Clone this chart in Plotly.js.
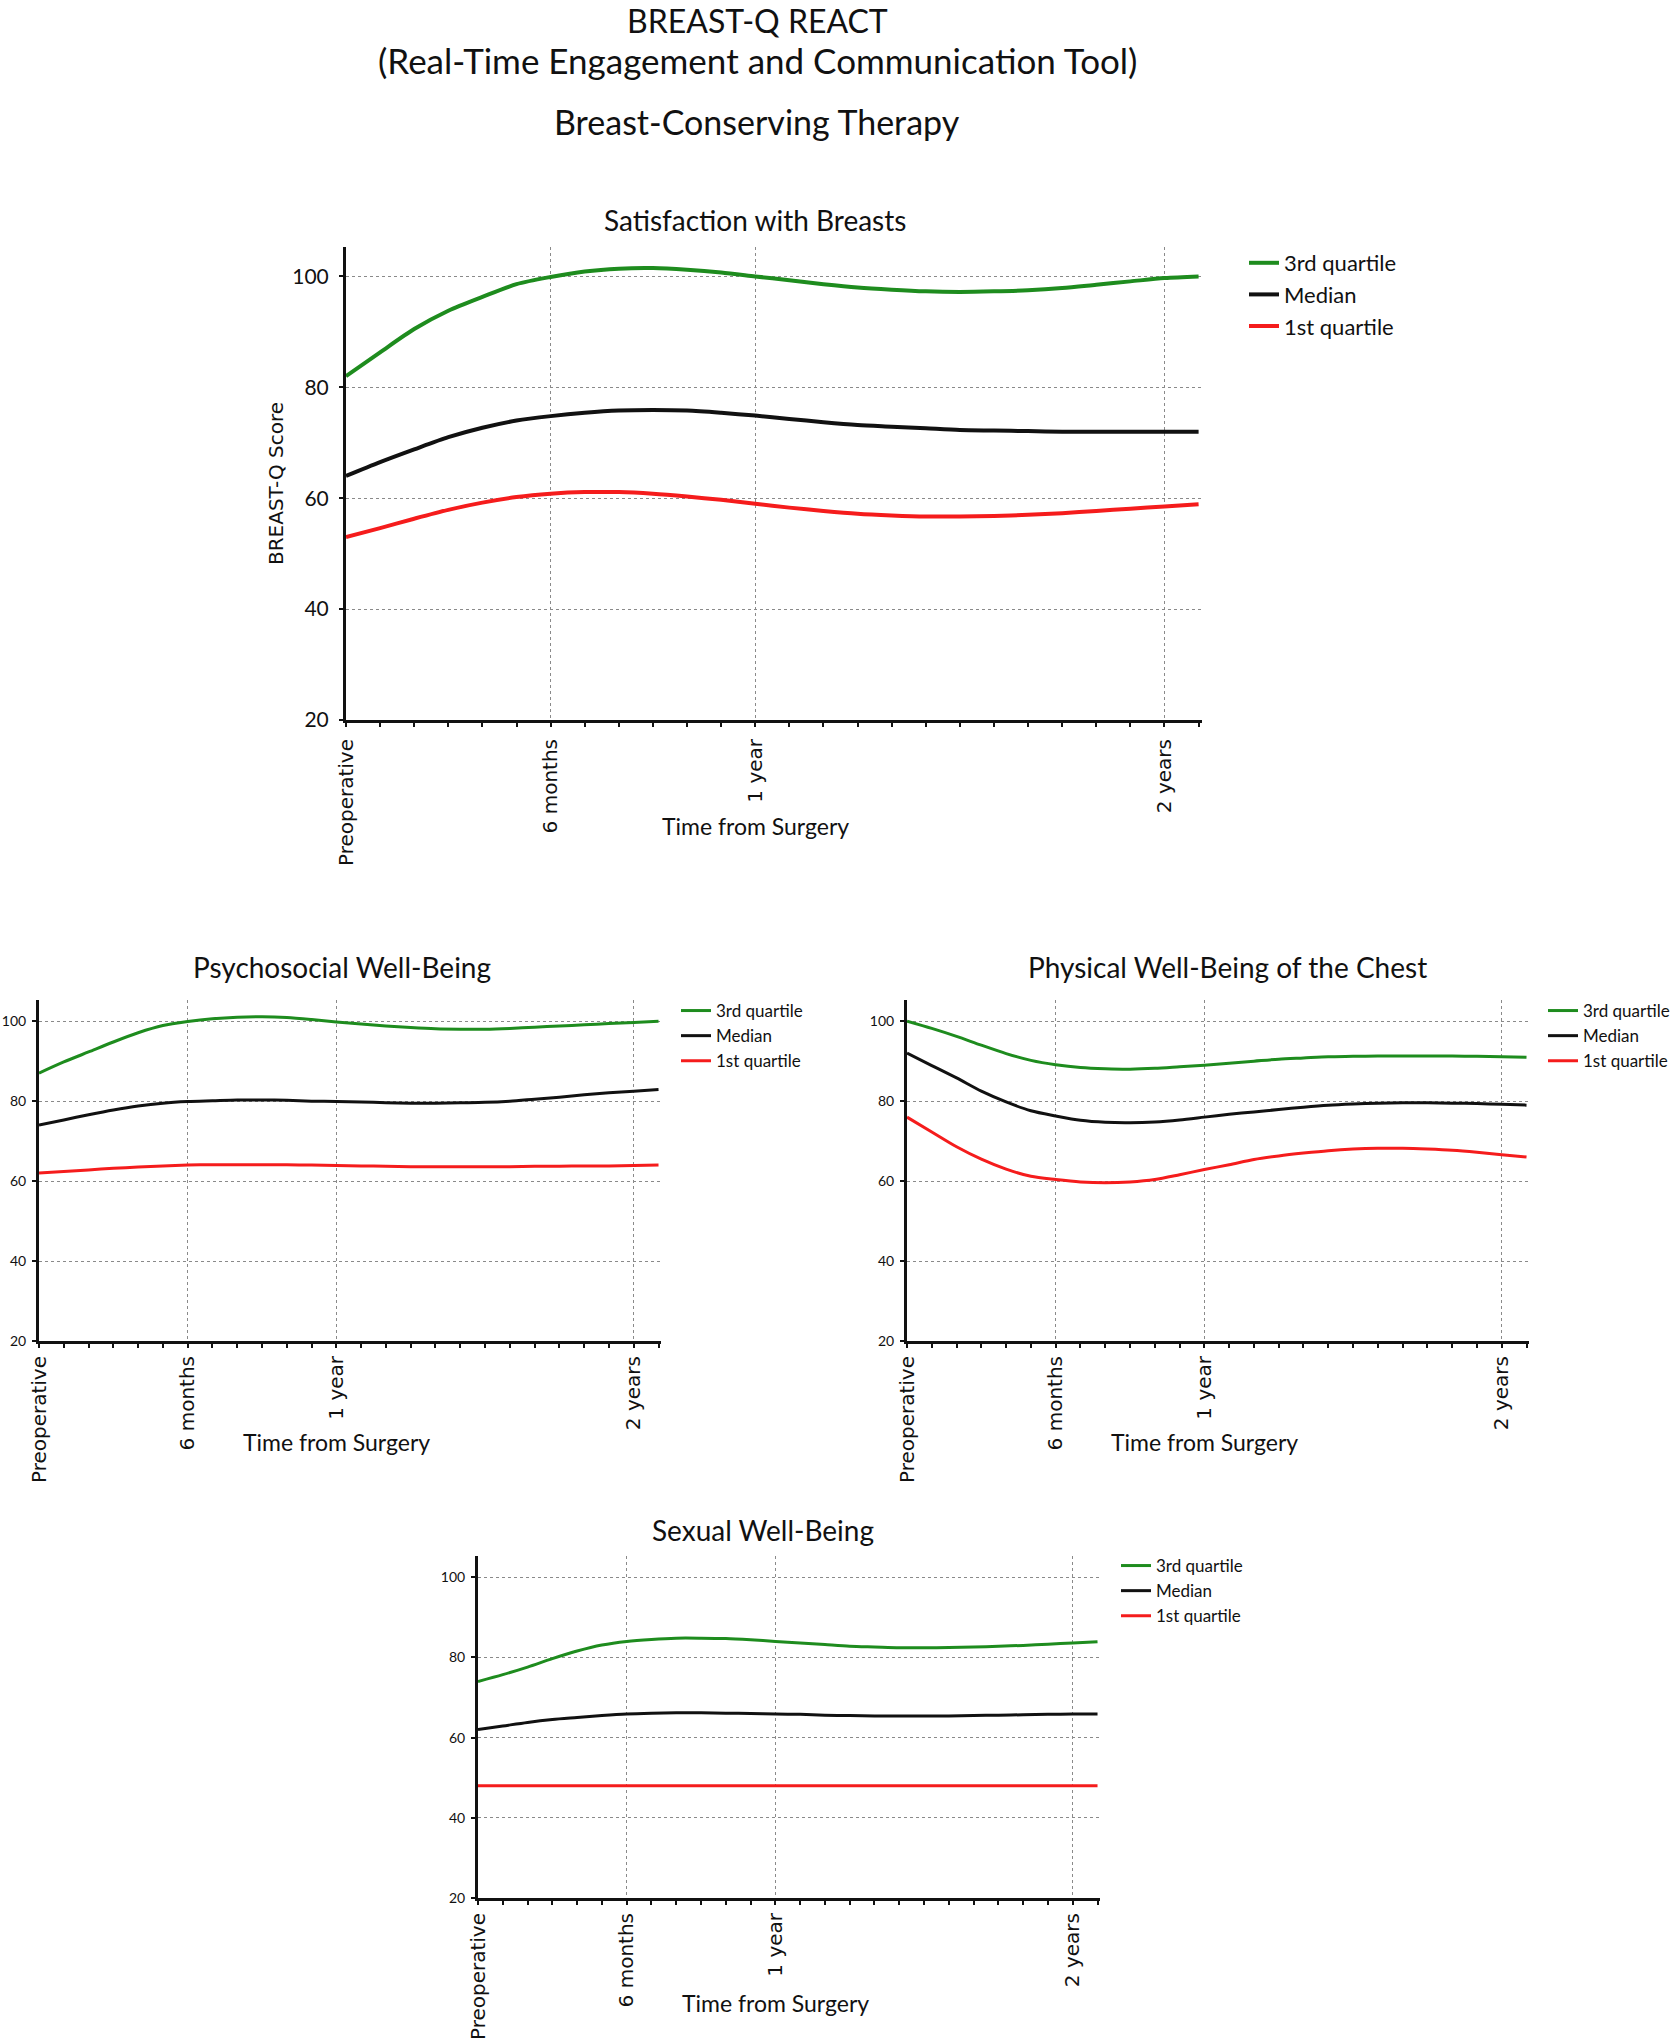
<!DOCTYPE html>
<html>
<head>
<meta charset="utf-8">
<script src="https://cdn.plot.ly/plotly-3.0.1.min.js"></script>
<style>
  html, body { margin: 0; padding: 0; background: #ffffff; }
  #chart { width: 1676px; height: 2040px; }
</style>
</head>
<body>
<div id="chart"></div>
<script>
// ---------------- DATA ----------------
const months = [0, 1, 2, 3, 4, 5, 6, 7, 8, 9, 10, 11, 12, 13, 14, 15, 16, 17, 18, 19, 20, 21, 22, 23, 24, 25];

const tickMonths = [0, 6, 12, 24];
const tickLabels = ['Preoperative', '6 months', '1 year', '2 years'];
const yTicks = [20, 40, 60, 80, 100];

const seriesNames = ['3rd quartile', 'Median', '1st quartile'];

const mainTitleLines = ['BREAST-Q REACT', '(Real-Time Engagement and Communication Tool)', 'Breast-Conserving Therapy'];
const panelTitles = ['Satisfaction with Breasts', 'Psychosocial Well-Being', 'Physical Well-Being of the Chest', 'Sexual Well-Being'];
const xAxisTitle = 'Time from Surgery';
const yAxisTitle = 'BREAST-Q Score';

// Satisfaction with Breasts
const satQ3  = [82, 86.3, 90.5, 93.8, 96.3, 98.6, 99.9, 100.9, 101.4, 101.5, 101.2, 100.7, 100.0, 99.3, 98.6, 98.0, 97.6, 97.3, 97.2, 97.3, 97.5, 97.9, 98.5, 99.1, 99.7, 100.0];
const satMed = [64, 66.5, 68.8, 71.0, 72.7, 74.0, 74.8, 75.4, 75.8, 75.9, 75.8, 75.4, 74.9, 74.3, 73.7, 73.2, 72.9, 72.6, 72.3, 72.2, 72.1, 72.0, 72.0, 72.0, 72.0, 72.0];
const satQ1  = [53, 54.6, 56.3, 57.9, 59.2, 60.2, 60.8, 61.1, 61.1, 60.8, 60.3, 59.7, 59.0, 58.3, 57.7, 57.2, 56.9, 56.7, 56.7, 56.8, 57.0, 57.3, 57.7, 58.1, 58.5, 58.9];

// Psychosocial Well-Being
const psyQ3  = [87, 89.8, 92.3, 94.8, 97.1, 98.9, 99.9, 100.6, 101.0, 101.1, 100.9, 100.4, 99.8, 99.3, 98.8, 98.4, 98.1, 98.0, 98.0, 98.2, 98.5, 98.8, 99.1, 99.4, 99.7, 100.0];
const psyMed = [74, 75.3, 76.6, 77.8, 78.8, 79.5, 79.9, 80.1, 80.3, 80.3, 80.2, 80.0, 79.9, 79.8, 79.6, 79.5, 79.5, 79.6, 79.7, 80.0, 80.5, 81.0, 81.6, 82.1, 82.5, 82.9];
const psyQ1  = [62, 62.4, 62.8, 63.2, 63.5, 63.8, 64.0, 64.1, 64.1, 64.1, 64.1, 64.0, 63.9, 63.8, 63.7, 63.6, 63.6, 63.6, 63.6, 63.6, 63.7, 63.7, 63.8, 63.8, 63.9, 64.0];

// Physical Well-Being of the Chest
const phyQ3  = [100, 98.2, 96.2, 94.0, 91.9, 90.2, 89.1, 88.4, 88.1, 88.0, 88.2, 88.6, 89.0, 89.5, 90.0, 90.5, 90.8, 91.1, 91.2, 91.3, 91.3, 91.3, 91.3, 91.2, 91.1, 91.0];
const phyMed = [92, 88.9, 85.8, 82.5, 79.8, 77.6, 76.3, 75.2, 74.7, 74.6, 74.8, 75.3, 76.0, 76.7, 77.3, 77.9, 78.5, 79.0, 79.3, 79.5, 79.6, 79.6, 79.5, 79.4, 79.2, 79.0];
const phyQ1  = [76, 72.3, 68.6, 65.5, 63.0, 61.2, 60.4, 59.8, 59.6, 59.8, 60.4, 61.6, 62.9, 64.1, 65.4, 66.3, 67.0, 67.6, 68.0, 68.2, 68.2, 68.0, 67.7, 67.2, 66.6, 66.0];

// Sexual Well-Being
const sexQ3  = [74, 75.7, 77.6, 79.7, 81.6, 83.1, 84.0, 84.5, 84.8, 84.8, 84.7, 84.4, 84.0, 83.6, 83.2, 82.8, 82.6, 82.4, 82.4, 82.5, 82.6, 82.8, 83.0, 83.3, 83.6, 83.9];
const sexMed = [62, 62.9, 63.8, 64.5, 65.0, 65.5, 65.9, 66.1, 66.2, 66.2, 66.1, 66.0, 65.9, 65.8, 65.6, 65.5, 65.4, 65.4, 65.4, 65.4, 65.5, 65.6, 65.7, 65.8, 65.9, 65.9];
const sexQ1  = [48, 48, 48, 48, 48, 48, 48, 48, 48, 48, 48, 48, 48, 48, 48, 48, 48, 48, 48, 48, 48, 48, 48, 48, 48, 48];

// ---------------- LAYOUT / STYLE ----------------
const W = 1676, H = 2040;
const colors = ['#1e8c1e', '#111111', '#f51c1c'];
const TITLE_FONT = 'Lato, "Open Sans", sans-serif';
const TICK_FONT = '"DejaVu Sans", Verdana, sans-serif';

function xd(a, b) { return [a / W, b / W]; }
function yd(top, bottom) { return [1 - bottom / H, 1 - top / H]; }
function px(v) { return v / W; }
function py(v) { return 1 - v / H; }

const panels = [
  { title: panelTitles[0], series: [satQ3, satMed, satQ1], x: [346, 1202], y: [247, 720], titleX: 755, titleY: 220,
    legendX: 1244, legendY: 242, legendSize: 22, yTickSize: 21, yStandoff: 6, xStandoff: 4, xTitleY: 826,
    lineWidth: 4, showYTitle: true },
  { title: panelTitles[1], series: [psyQ3, psyMed, psyQ1], x: [39, 661], y: [1000, 1341], titleX: 342, titleY: 967,
    legendX: 676, legendY: 993, legendSize: 17, yTickSize: 14, yStandoff: 3, xStandoff: 0, xTitleY: 1442,
    lineWidth: 3, showYTitle: false },
  { title: panelTitles[2], series: [phyQ3, phyMed, phyQ1], x: [907, 1529], y: [1000, 1341], titleX: 1227, titleY: 967,
    legendX: 1543, legendY: 993, legendSize: 17, yTickSize: 14, yStandoff: 3, xStandoff: 0, xTitleY: 1442,
    lineWidth: 3, showYTitle: false },
  { title: panelTitles[3], series: [sexQ3, sexMed, sexQ1], x: [478, 1100], y: [1556, 1898], titleX: 763, titleY: 1530,
    legendX: 1116, legendY: 1548, legendSize: 17, yTickSize: 14, yStandoff: 3, xStandoff: 0, xTitleY: 2003,
    lineWidth: 3, showYTitle: false }
];

const traces = [];
const layout = {
  width: W, height: H,
  margin: { l: 0, r: 0, t: 0, b: 0 },
  paper_bgcolor: '#ffffff',
  plot_bgcolor: '#ffffff',
  font: { family: TITLE_FONT, color: '#111111' },
  annotations: [],
  showlegend: true
};

// main title lines
const mainY = [21, 60, 121];
const mainSize = [32, 35, 34];
mainTitleLines.forEach((t, i) => {
  layout.annotations.push({
    text: t, xref: 'paper', yref: 'paper', x: px(757), y: py(mainY[i]),
    xanchor: 'center', yanchor: 'middle', showarrow: false,
    font: { family: TITLE_FONT, size: mainSize[i], color: '#111111' }
  });
});

panels.forEach((p, i) => {
  const sfx = i === 0 ? '' : String(i + 1);
  const xa = 'xaxis' + sfx, ya = 'yaxis' + sfx, lg = 'legend' + sfx;

  p.series.forEach((vals, k) => {
    traces.push({
      type: 'scatter', mode: 'lines',
      x: months, y: vals,
      name: seriesNames[k],
      xaxis: 'x' + sfx, yaxis: 'y' + sfx,
      legend: lg,
      line: { color: colors[k], width: p.lineWidth, shape: 'spline', smoothing: 0.8 },
      hoverinfo: 'x+y+name'
    });
  });

  layout[xa] = {
    domain: xd(p.x[0], p.x[1]),
    anchor: 'y' + sfx,
    range: [0, 25.1],
    tickmode: 'array', tickvals: tickMonths, ticktext: tickLabels,
    tickangle: -90,
    ticks: 'outside', ticklen: 4, tickwidth: 2, tickcolor: '#111111',
    ticklabelstandoff: p.xStandoff,
    tickfont: { family: TICK_FONT, size: 20, color: '#111111' },
    minor: { tickmode: 'linear', tick0: 0, dtick: 1, ticks: 'outside', ticklen: 4, tickwidth: 2, tickcolor: '#111111', showgrid: false },
    showline: true, linecolor: '#111111', linewidth: 3,
    showgrid: true, gridcolor: '#8a8a8a', gridwidth: 1, griddash: 'dot',
    zeroline: false, fixedrange: true
  };
  layout[ya] = {
    domain: yd(p.y[0], p.y[1]),
    anchor: 'x' + sfx,
    range: [20, 105.3],
    tickmode: 'array', tickvals: yTicks,
    ticks: 'outside', ticklen: 4, tickwidth: 2, tickcolor: '#111111',
    ticklabelstandoff: p.yStandoff,
    tickfont: { family: TITLE_FONT, size: p.yTickSize, color: '#111111' },
    showline: true, linecolor: '#111111', linewidth: 3,
    showgrid: true, gridcolor: '#8a8a8a', gridwidth: 1, griddash: 'dot',
    zeroline: false, fixedrange: true
  };
  if (p.showYTitle) {
    layout[ya].title = { text: yAxisTitle, font: { family: TICK_FONT, size: 20, color: '#111111' }, standoff: 4 };
  }

  layout[lg] = {
    x: px(p.legendX), y: py(p.legendY), xanchor: 'left', yanchor: 'top',
    xref: 'paper', yref: 'paper',
    bgcolor: 'rgba(0,0,0,0)', borderwidth: 0,
    font: { family: TITLE_FONT, size: p.legendSize, color: '#111111' },
    traceorder: 'normal', itemwidth: 30, tracegroupgap: 0
  };

  // panel title
  layout.annotations.push({
    text: p.title, xref: 'paper', yref: 'paper',
    x: px(p.titleX), y: py(p.titleY),
    xanchor: 'center', yanchor: 'middle', showarrow: false,
    font: { family: TITLE_FONT, size: 28, color: '#111111' }
  });
  // x axis title, centred on the 1-year tick as in the original
  layout.annotations.push({
    text: xAxisTitle, xref: 'x' + sfx, yref: 'paper',
    x: tickMonths[2], y: py(p.xTitleY),
    xanchor: 'center', yanchor: 'middle', showarrow: false,
    font: { family: TITLE_FONT, size: 23, color: '#111111' }
  });
});

Plotly.newPlot('chart', traces, layout, { staticPlot: false, displayModeBar: false, responsive: false });
</script>
</body>
</html>
